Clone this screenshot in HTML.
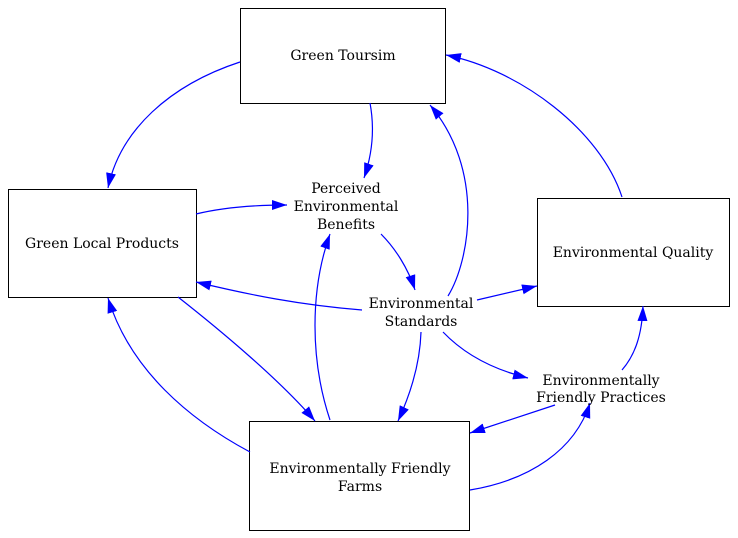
<!DOCTYPE html>
<html><head><style>
html,body{margin:0;padding:0;background:#fff;}
svg{display:block;}
</style></head><body>
<svg width="738" height="538" viewBox="0 0 738 538" xmlns="http://www.w3.org/2000/svg">
<defs>
<marker id="a" markerUnits="userSpaceOnUse" markerWidth="16" markerHeight="12" refX="15" refY="5" orient="auto">
<path d="M0,0 L15,5 L0,10 z" fill="#0000ff"/>
</marker>
</defs>
<g fill="#fff" stroke="#000" stroke-width="1">
<rect x="240.5" y="8.5" width="205" height="95"/>
<rect x="8.5" y="189.5" width="188" height="108"/>
<rect x="537.5" y="198.5" width="192" height="108"/>
<rect x="249.5" y="421.5" width="220" height="109"/>
</g>
<g fill="none" stroke="#0000ff" stroke-width="1.2" marker-end="url(#a)">
<path d="M240,62 C170,85 120,130 108,188"/>
<path d="M370,103 C375,130 372,155 364,178"/>
<path d="M196,214 C225,207 255,205 287,205"/>
<path d="M381,234 C395,248 408,268 415,290"/>
<path d="M448,296 C470,260 485,170 430,105"/>
<path d="M362,310 C300,305 250,295 196,282"/>
<path d="M477,300 L537,286"/>
<path d="M421,332 C420,365 410,395 398,421"/>
<path d="M443,332 C465,355 495,370 528,378"/>
<path d="M178,297 C220,330 280,380 315,421"/>
<path d="M330,420 C310,360 310,290 330,234"/>
<path d="M250,452 C190,420 130,370 108,298"/>
<path d="M555,405 L470,433"/>
<path d="M470,490 C530,480 575,450 590,403"/>
<path d="M622,370 C635,355 642,335 643,306"/>
<path d="M622,197 C600,130 520,70 446,55"/>
</g>
<g text-anchor="middle" font-family="DejaVu Serif, Liberation Serif, serif" font-size="14" fill="#000">
<text x="343" y="60">Green Toursim</text>
<text x="102" y="248">Green Local Products</text>
<text x="633" y="257">Environmental Quality</text>
<text x="360" y="473">Environmentally Friendly</text>
<text x="360" y="491">Farms</text>
<text x="346" y="193">Perceived</text>
<text x="346" y="211">Environmental</text>
<text x="346" y="229">Benefits</text>
<text x="421" y="308">Environmental</text>
<text x="421" y="326">Standards</text>
<text x="601" y="385">Environmentally</text>
<text x="601" y="402">Friendly Practices</text>
</g>
</svg>
</body></html>
